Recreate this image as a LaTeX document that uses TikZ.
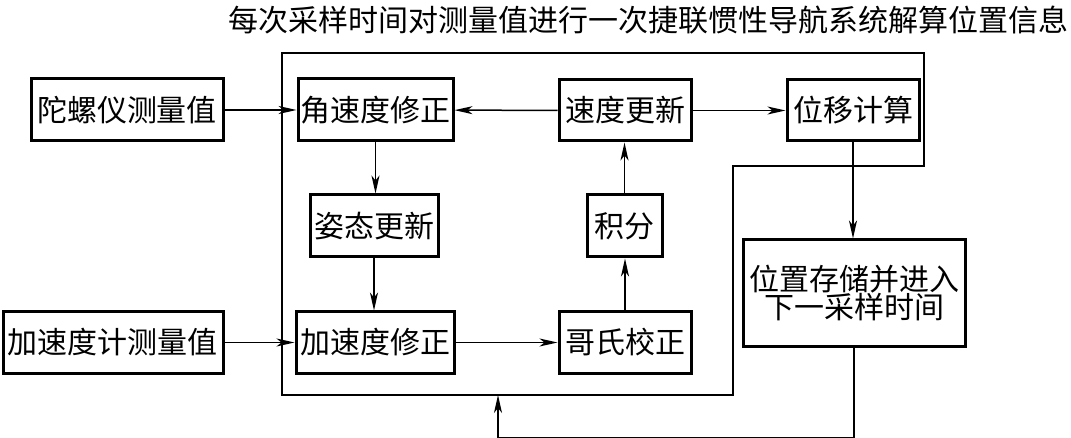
\documentclass[tikz,border=0pt]{standalone}
\usepackage{fontspec}
\setmainfont{Noto Sans CJK SC}
\usetikzlibrary{positioning, arrows.meta}

\begin{document}
\begin{tikzpicture}[
    x=1pt, y=-1pt,
    arrow/.style={-{Stealth[length=18pt, width=8pt, inset=5pt]}, line width=1.5pt},
    block/.style={rectangle, draw=black, line width=3pt, inner sep=1pt,
                  font=\fontsize{30}{34}\selectfont, align=center}
]
    \useasboundingbox (0, 0) rectangle (1071, 438);

    % Title
    \node[font=\fontsize{30}{32}\selectfont] (title) at (648, 20) {每次采样时间对测量值进行一次捷联惯性导航系统解算位置信息};

    % === Outer frame ===
    \draw[line width=1.5pt] (282, 53) -- (924, 53) -- (924, 166) -- (733, 166)
        -- (733, 395) -- (282, 395) -- cycle;
    \coordinate (back) at (498, 395);

    % === Sensors ===
    \node[block, minimum width=192pt, minimum height=62pt] (gyro) at (127, 110) {陀螺仪测量值};
    \node[block, minimum width=220pt, minimum height=61pt] (accel) at (113, 342.5) {加速度计测量值};

    % === Inner loop ===
    \node[block, minimum width=155pt, minimum height=62pt] (angcorr) at (375.5, 110) {角速度修正};
    \node[block, minimum width=128pt, minimum height=62pt] (attupd) at (374, 226) {姿态更新};
    \node[block, minimum width=158pt, minimum height=61pt] (acccorr) at (375, 342.5) {加速度修正};
    \node[block, minimum width=132pt, minimum height=61pt] (velupd) at (625, 110.5) {速度更新};
    \node[block, minimum width=75pt, minimum height=62pt] (integ) at (624.5, 226) {积分};
    \node[block, minimum width=132pt, minimum height=61pt] (coriolis) at (625, 342.5) {哥氏校正};
    \node[block, minimum width=132pt, minimum height=61pt] (disp) at (853, 110.5) {位移计算};
    \node[block, minimum width=222pt, minimum height=106pt] (store) at (854, 293) {位置存储并进入\\[-6pt]下一采样时间};

    % === Connectors ===
    \draw[arrow] (gyro) -- (angcorr);
    \draw[arrow] (accel) -- (acccorr);
    \draw[arrow] (velupd) -- (angcorr);
    \draw[arrow] (velupd) -- (disp);
    \draw[arrow] (acccorr) -- (coriolis);
    \draw[arrow] (angcorr.south) -- (angcorr.south |- attupd.north);
    \draw[arrow] (attupd.south) -- (attupd.south |- acccorr.north);
    \draw[arrow] (coriolis.north) -- (coriolis.north |- integ.south);
    \draw[arrow] (integ.north) -- (integ.north |- velupd.south);
    \draw[arrow] (disp.south) -- (disp.south |- store.north);
    \draw[arrow] (store.south) -- ++(0, 90) -| (back);

\end{tikzpicture}
\end{document}
